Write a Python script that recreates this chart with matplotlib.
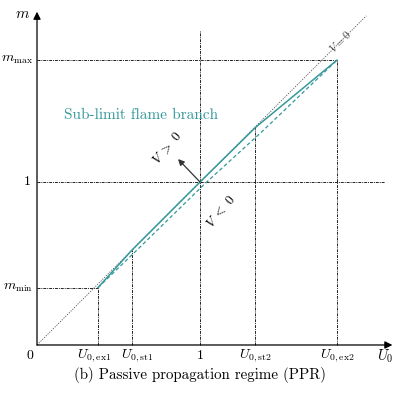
import numpy as np
import matplotlib.pyplot as plt

plt.rcParams['mathtext.fontset'] = 'cm'
plt.rcParams['font.family'] = ['cmr10', 'DejaVu Serif']
plt.rcParams['axes.unicode_minus'] = False

TEAL = '#35989a'

# characteristic flow velocities (x) and burning rates (y)
x_ticks = [0.374, 0.583, 1.0, 1.34, 1.84]
x_labels = [r'$U_{0,\mathrm{ex1}}$', r'$U_{0,\mathrm{st1}}$', '1',
            r'$U_{0,\mathrm{st2}}$', r'$U_{0,\mathrm{ex2}}$']
m_min = 0.352
m_max = 1.748

# sub-limit flame branch (solid) and its companion branch (dashed)
solid_u = [0.374, 0.583, 1.0, 1.34, 1.84]
solid_m = [0.352, 0.583, 1.0, 1.335, 1.748]
dashed_u = [0.374, 0.60, 1.03, 1.37, 1.84]
dashed_m = [0.352, 0.57, 0.99, 1.30, 1.748]

diag_end = 2.02

fig = plt.figure(figsize=(3.95, 3.96), dpi=100)
ax = fig.add_axes([0, 0, 1, 1])
ax.set_xlim(-0.227, 2.196)
ax.set_ylim(-0.313, 2.117)
ax.axis('off')

guide = dict(color='#222222', linewidth=0.7, linestyle=(0, (3, 1, 1, 1)))

# axes with arrows
ax.annotate('', xy=(2.18, 0), xytext=(0, 0),
            arrowprops=dict(arrowstyle='-|>', color='black', lw=0.9,
                            mutation_scale=11, shrinkA=0, shrinkB=0))
ax.annotate('', xy=(0, 2.045), xytext=(0, 0),
            arrowprops=dict(arrowstyle='-|>', color='black', lw=0.9,
                            mutation_scale=11, shrinkA=0, shrinkB=0))

# V = 0 diagonal
ax.plot([0, diag_end], [0, diag_end], color='#555555', linewidth=0.6,
        linestyle=(0, (1.5, 1.5)))
ax.text(1.86, 1.86, r'$V=0$', rotation=45, ha='center', va='center',
        fontsize=8, color='#444444')

# guide lines
ax.plot([0, x_ticks[4]], [m_max, m_max], **guide)
ax.plot([0, x_ticks[0]], [m_min, m_min], **guide)
ax.plot([0, 2.135], [1, 1], **guide)
ax.plot([1, 1], [0, 1.93], **guide)
for u in [x_ticks[0], x_ticks[1], x_ticks[3], x_ticks[4]]:
    top = np.interp(u, solid_u, solid_m)
    ax.plot([u, u], [0, top], **guide)

# branches
ax.plot(dashed_u, dashed_m, color=TEAL, linewidth=0.9, linestyle=(0, (3, 2)))
ax.plot(solid_u, solid_m, color=TEAL, linewidth=1.1)

# V > 0 arrow
ax.annotate('', xy=(0.865, 1.141), xytext=(1.0, 1.0),
            arrowprops=dict(arrowstyle='-|>', color='#333333', lw=0.9,
                            mutation_scale=9, shrinkA=0, shrinkB=0))
ax.text(0.80, 1.21, r'$V\ >\ 0$', rotation=50, ha='center', va='center', fontsize=9.5)
ax.text(1.13, 0.82, r'$V\ <\ 0$', rotation=50, ha='center', va='center', fontsize=9.5)

ax.text(0.64, 1.41, 'Sub-limit flame branch', color=TEAL, fontsize=11,
        ha='center', va='center')

# tick labels (first two nudged apart so they do not touch)
nudge = [-0.025, 0.03, 0, 0, 0]
for u, lab, dx in zip(x_ticks, x_labels, nudge):
    ax.text(u + dx, -0.065, lab, ha='center', va='center', fontsize=10)
ax.text(-0.045, -0.065, '0', ha='center', va='center', fontsize=10)
ax.text(-0.025, m_max, r'$m_{\mathrm{max}}$', ha='right', va='center', fontsize=10)
ax.text(-0.04, 1.0, '1', ha='right', va='center', fontsize=10)
ax.text(-0.025, m_min, r'$m_{\mathrm{min}}$', ha='right', va='center', fontsize=10)
ax.text(-0.086, 2.03, r'$m$', ha='center', va='center', fontsize=11)
ax.text(2.135, -0.068, r'$U_0$', ha='center', va='center', fontsize=10.5)

ax.text(0.998, -0.185, '(b) Passive propagation regime (PPR)', ha='center',
        va='center', fontsize=10.8)

plt.savefig('out.png', dpi=100)
plt.close()
